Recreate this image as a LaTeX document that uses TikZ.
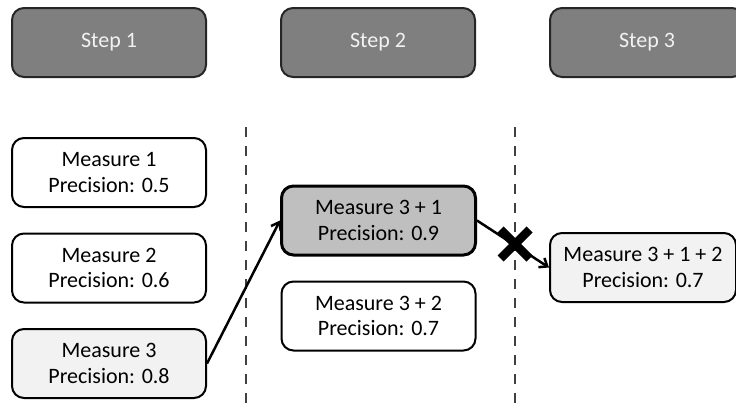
\documentclass[tikz,border=0pt]{standalone}
\usepackage{fontspec}
\setmainfont{Carlito}
\usetikzlibrary{arrows.meta}
\definecolor{stepgray}{HTML}{7F7F7F}
\definecolor{bestgray}{HTML}{BFBFBF}
\definecolor{lightfill}{HTML}{F2F2F2}
\definecolor{divider}{HTML}{404040}
\tikzset{
  stepbox/.style={draw=black!85, line width=2pt, fill=stepgray, rounded corners=12pt,
    minimum width=194pt, minimum height=69pt, text=lightfill, inner sep=0pt},
  measure/.style={draw=black, line width=2pt, fill=white, rounded corners=12pt,
    minimum width=194pt, minimum height=69pt, align=center, inner sep=0pt},
  picked/.style={measure, fill=lightfill},
  best/.style={measure, fill=bestgray, line width=3pt},
  divline/.style={draw=divider, line width=2.8pt, dash pattern=on 10pt off 9pt},
  link/.style={draw=black, line width=2.5pt, -{Straight Barb[length=7pt,width=11pt,line width=2.5pt]}},
}
\begin{document}
\begin{tikzpicture}[x=1pt, y=-1pt, font=\fontsize{22}{25.5}\selectfont]
\useasboundingbox (0,0) rectangle (736,410);
\begin{scope}
\clip (0,0) rectangle (736,410);

% step headers
\node[stepbox] (s1) at (109,42.5) {Step 1};
\node[stepbox] (s2) at (378,42.5) {Step 2};
\node[stepbox] (s3) at (647,42.5) {Step 3};

% column dividers
\coordinate (d1top) at (246,127);
\coordinate (d1bot) at (246,410);
\coordinate (d2top) at (515,127);
\coordinate (d2bot) at (515,410);
\draw[divline] (d1top) -- (d1bot);
\draw[divline] (d2top) -- (d2bot);

% step 1 candidates
\node[measure] (m1) at (109,172.5) {Measure 1\\Precision: 0.5};
\node[measure] (m2) at (109,268) {Measure 2\\Precision: 0.6};
\node[picked]  (m3) at (109,363.5) {Measure 3\\Precision: 0.8};

% step 2 candidates
\node[best]    (m31) at (378.5,220.5) {Measure 3 + 1\\Precision: 0.9};
\node[measure] (m32) at (378.5,316) {Measure 3 + 2\\Precision: 0.7};

% step 3 candidate
\node[picked, minimum width=186pt] (m312) at (643,267.5) {Measure 3 + 1 + 2\\Precision: 0.7};

% transitions
\draw[link] (m3.east) -- (m31.west);
\draw[link] (m31.east) -- (m312.west);

% rejection mark on the second transition
\coordinate (cross) at (515,244);
\draw[line width=8.5pt, black] ([shift={(-14.5,-14.5)}]cross) -- ([shift={(14.5,14.5)}]cross);
\draw[line width=8.5pt, black] ([shift={(-14.5,14.5)}]cross) -- ([shift={(14.5,-14.5)}]cross);
\end{scope}
\end{tikzpicture}
\end{document}
